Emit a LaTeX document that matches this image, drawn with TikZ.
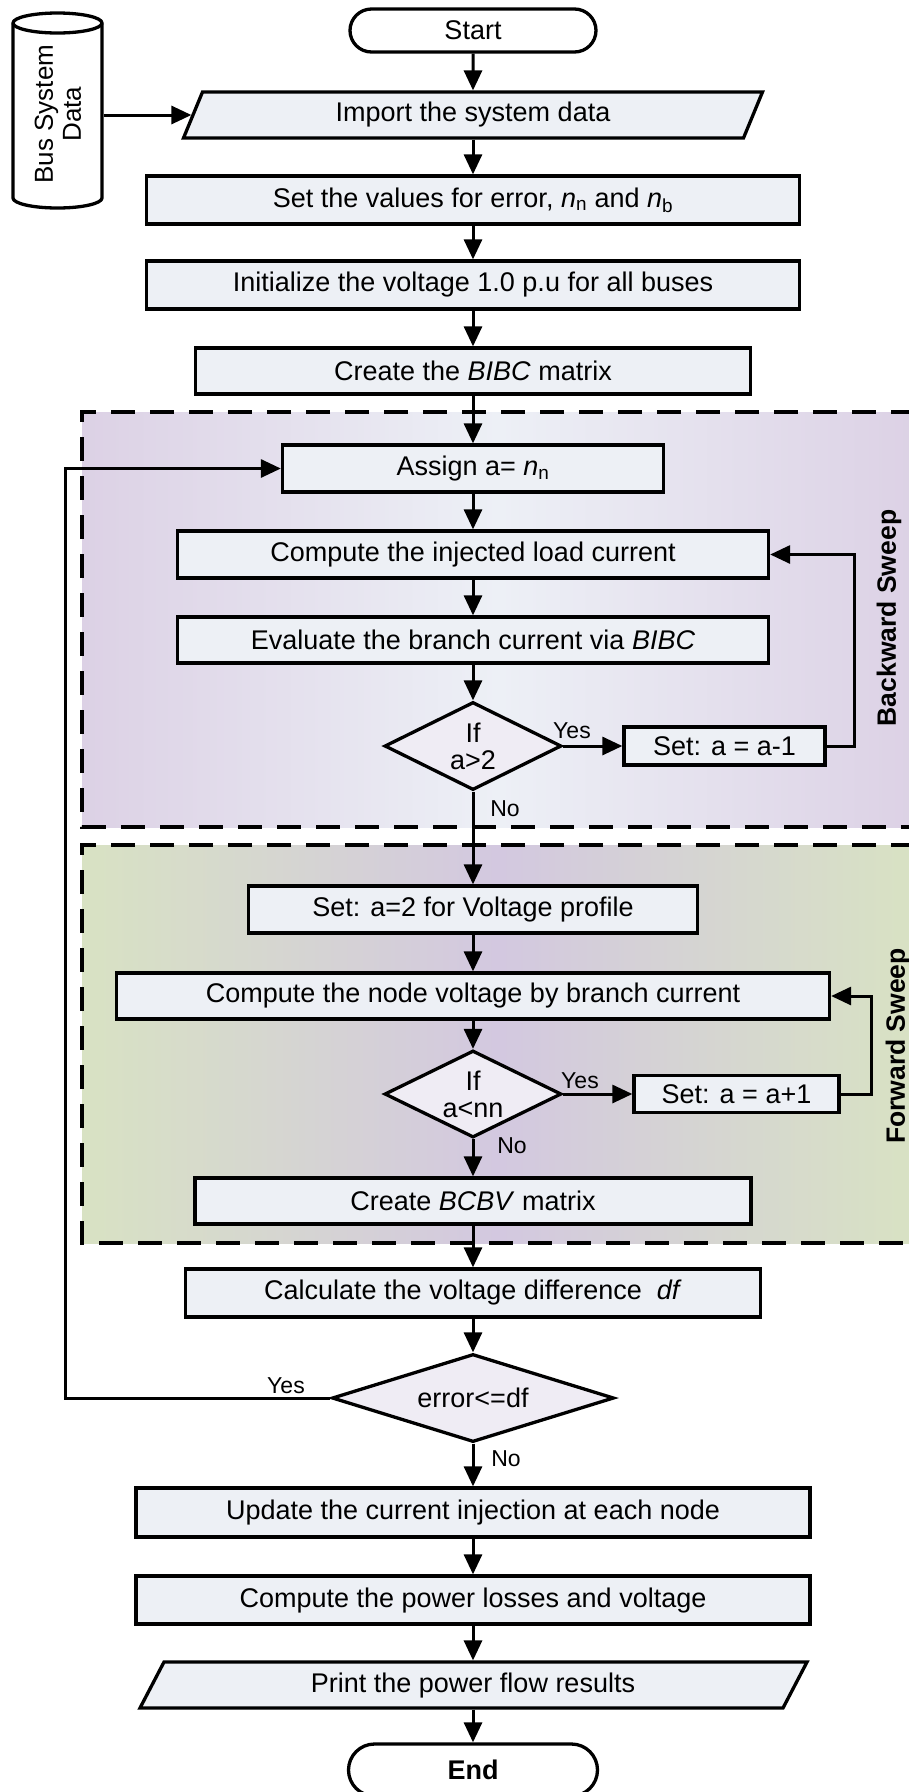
\documentclass[tikz,border=0pt]{standalone}
\usepackage{fontspec}
\setmainfont{Liberation Sans}
\usetikzlibrary{shapes.geometric,shapes.misc,arrows.meta}

\definecolor{boxfill}{HTML}{EDF0F5}
\definecolor{diafill}{HTML}{EFECF4}
\definecolor{bwedge}{HTML}{DCD1E5}
\definecolor{bwmid}{HTML}{EDF0F6}
\definecolor{fwedge}{HTML}{D8E2C3}
\definecolor{fwmid}{HTML}{D3C8E0}

\newcommand\fsmain{\fontsize{27pt}{29pt}\selectfont}

\tikzset{
  nodebase/.style={draw, line width=3.3pt, font=\fsmain, align=center, inner sep=0pt},
  proc/.style={nodebase, rectangle, fill=boxfill},
  term/.style={nodebase, rounded rectangle, fill=white},
  decision/.style={nodebase, diamond, aspect=2, fill=diafill,
    font=\fontsize{27pt}{27pt}\selectfont},
  io/.style={rectangle, font=\fsmain, inner sep=0pt, outer sep=1.6pt},
  frame/.style={draw, line width=3.3pt, fill=boxfill, line join=miter},
  arr/.style={line width=3pt, -{Triangle[length=20pt,width=18pt]}},
  lbl/.style={font=\fontsize{23pt}{25pt}\selectfont, inner sep=0pt, anchor=base},
  sweep/.style={font=\bfseries\fontsize{26.5pt}{29pt}\selectfont, rotate=90, inner sep=0pt},
  zone/.style={line width=3.3pt, dash pattern=on 24pt off 15pt},
}

\begin{document}
\begin{tikzpicture}[x=1pt,y=-1pt]
\useasboundingbox (0,0) rectangle (909,1792);
\fill[white] (0,0) rectangle (909,1792);

% sweep regions: horizontal shading, edge colour on both sides
\shade[left color=bwedge, right color=bwedge, middle color=bwmid] (82,412) rectangle (915,827);
\draw[zone] (915,412) -- (82,412) -- (82,827) -- (915,827);
\shade[left color=fwedge, right color=fwedge, middle color=fwmid] (82,845) rectangle (915,1243);
\draw[zone] (915,845) -- (82,845) -- (82,1243) -- (915,1243);
\node[sweep] (bsw) at (889,618) {Backward Sweep};
\node[sweep] (fsw) at (898,1046) {Forward Sweep};

% data store cylinder
\filldraw[fill=white, line width=3.3pt] (13,23) -- (13,198)
  arc[start angle=180, end angle=360, x radius=44.5pt, y radius=10pt]
  -- (102,23)
  arc[start angle=0, end angle=180, x radius=44.5pt, y radius=10pt] -- cycle;
\draw[line width=3.3pt] (13,23) arc[start angle=180, end angle=360, x radius=44.5pt, y radius=10pt];
\node[inner sep=0pt, outer sep=1.6pt, minimum width=89pt, minimum height=185pt] (cyl) at (57.5,110.5) {};
\node[rotate=90, align=center, inner sep=0pt, font=\fontsize{26pt}{28pt}\selectfont] (cyltxt) at (58,114) {Bus System\\Data};

% input / output parallelograms
\filldraw[frame] (183.5,138) -- (743.5,138) -- (762.5,92) -- (202.5,92) -- cycle;
\filldraw[frame] (140,1708) -- (783,1708) -- (807,1662) -- (164,1662) -- cycle;

% flow nodes
\node[term, minimum width=246pt, minimum height=43pt] (start) at (473,30.5) {Start};
\node[io, minimum width=560pt, minimum height=46pt] (imp) at (473,115) {Import the system data};
\node[proc, minimum width=653pt, minimum height=48pt] (setval) at (473,200)
  {Set the values for error, {\itshape n}\textsubscript{n} and {\itshape n}\textsubscript{b}};
\node[proc, minimum width=653pt, minimum height=48pt] (init) at (473,285) {Initialize the voltage 1.0 p.u for all buses};
\node[proc, minimum width=555pt, minimum height=46pt] (bibc) at (473,371) {Create the \textit{BIBC} matrix};
\node[proc, minimum width=381pt, minimum height=47pt] (assign) at (473,468.5) {Assign a= {\itshape n}\textsubscript{n}};
\node[proc, minimum width=591pt, minimum height=47pt] (inj) at (473,554.5) {Compute the injected load current};
\node[proc, minimum width=591pt, minimum height=46pt] (eval) at (473,640) {Evaluate the branch current via \textit{BIBC}};
\node[decision, minimum width=177pt, minimum height=88pt] (dia1) at (473,746) {If\\a>2};
\node[proc, minimum width=201pt, minimum height=38pt] (setm1) at (724.5,746) {Set: a = a-1};
\node[proc, minimum width=449pt, minimum height=47pt] (seta2) at (473,909.5) {Set: a=2 for Voltage profile};
\node[proc, minimum width=713pt, minimum height=46pt] (nodev) at (473,996) {Compute the node voltage by branch current};
\node[decision, minimum width=177pt, minimum height=87pt] (dia2) at (473,1094) {If\\a<nn};
\node[proc, minimum width=205pt, minimum height=37pt] (setp1) at (736.5,1094) {Set: a = a+1};
\node[proc, minimum width=556pt, minimum height=46pt] (bcbv) at (473,1201) {Create \textit{BCBV} matrix};
\node[proc, minimum width=575pt, minimum height=48pt] (calc) at (473,1293) {Calculate the voltage difference~~\textit{df}};
\node[decision, minimum width=282pt, minimum height=88pt] (dia3) at (473,1398) {error<=df};
\node[proc, minimum width=674pt, minimum height=49pt] (update) at (473,1512.5) {Update the current injection at each node};
\node[proc, minimum width=674pt, minimum height=48pt] (power) at (473,1600) {Compute the power losses and voltage};
\node[io, minimum width=643pt, minimum height=46pt] (print) at (473,1685) {Print the power flow results};
\node[term, minimum width=249pt, minimum height=52pt, font=\bfseries\fsmain] (end) at (473,1770) {End};

% loop-back rails
\coordinate (railL) at (65,0);
\coordinate (railB) at (854,0);
\coordinate (railF) at (871,0);

% connectors
\draw[arr] (cyl.east |- imp.west) -- (imp.west);
\draw[arr] (start) -- (imp);
\draw[arr] (imp) -- (setval);
\draw[arr] (setval) -- (init);
\draw[arr] (init) -- (bibc);
\draw[arr] (bibc) -- (assign);
\draw[arr] (assign) -- (inj);
\draw[arr] (inj) -- (eval);
\draw[arr] (eval) -- (dia1);
\draw[arr] (dia1) -- (setm1);
\draw[arr] (setm1.east) -- (railB |- setm1.east) |- (inj.east);
\draw[arr] (dia1) -- (seta2);
\draw[arr] (seta2) -- (nodev);
\draw[arr] (nodev) -- (dia2);
\draw[arr] (dia2) -- (setp1);
\draw[arr] (setp1.east) -- (railF |- setp1.east) |- (nodev.east);
\draw[arr] (dia2) -- (bcbv);
\draw[arr] (bcbv) -- (calc);
\draw[arr] (calc) -- (dia3);
\draw[arr] (dia3.west) -- (railL |- dia3.west) |- (assign.west);
\draw[arr] (dia3) -- (update);
\draw[arr] (update) -- (power);
\draw[arr] (power) -- (print);
\draw[arr] (print) -- (end);

% branch labels
\node[lbl] (yes1) at (572,738) {Yes};
\node[lbl] (no1) at (505,816) {No};
\node[lbl] (yes2) at (580,1088) {Yes};
\node[lbl] (no2) at (512,1153) {No};
\node[lbl] (yes3) at (286,1393) {Yes};
\node[lbl] (no3) at (506,1466) {No};
\end{tikzpicture}
\end{document}
